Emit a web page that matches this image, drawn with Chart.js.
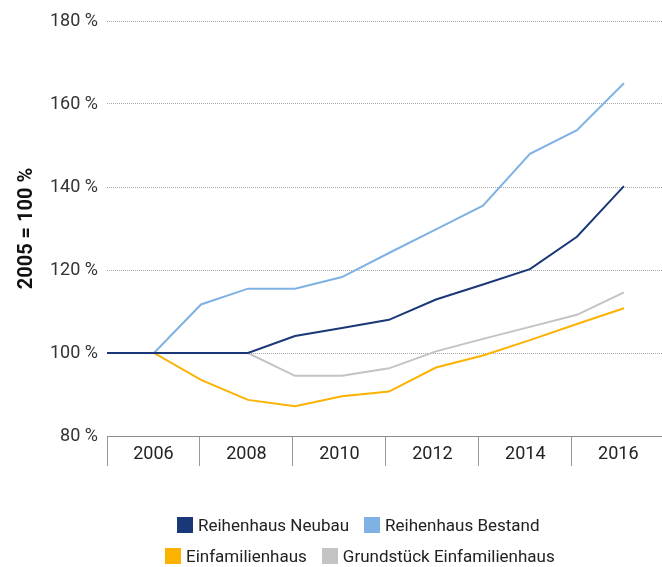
<!DOCTYPE html>
<html>
<head>
<meta charset="utf-8">
<script src="https://cdn.jsdelivr.net/npm/chart.js@4/dist/chart.umd.min.js"></script>
<style>
  html, body { margin: 0; padding: 0; background: #ffffff; }
  #wrap { position: relative; width: 662px; height: 567px; overflow: hidden; }
  #legend { position: absolute; left: 0; top: 0; width: 662px; height: 567px; pointer-events: none;
            font-family: Roboto, "Liberation Sans", sans-serif;
            font-size: 17px; color: #222; }
  .row { position: absolute; display: flex; align-items: center; height: 22px; white-space: nowrap; }
  .item { display: flex; align-items: center; margin-right: 15px; }
  .box { width: 16px; height: 16px; margin-right: 5px; flex: none; }
</style>
</head>
<body>
<div id="wrap">
  <canvas id="c" width="662" height="567"></canvas>
  <div id="legend"></div>
</div>
<script>
const years = [2005, 2006, 2007, 2008, 2009, 2010, 2011, 2012, 2013, 2014, 2015, 2016];
const seriesNames = ["Reihenhaus Neubau", "Reihenhaus Bestand", "Einfamilienhaus", "Grundstück Einfamilienhaus"];
const reihenhausNeubau   = [100, 100, 100, 100, 104.1, 106.0, 108.0, 112.9, 116.5, 120.2, 128.0, 140.2];
const reihenhausBestand  = [100, 100, 111.7, 115.5, 115.5, 118.3, 124.1, 129.8, 135.5, 148.0, 153.7, 165.0];
const einfamilienhaus    = [100, 100, 93.5, 88.7, 87.2, 89.6, 90.7, 96.5, 99.4, 103.1, 107.0, 110.8];
const grundstueckEFH     = [100, 100, 100, 100, 94.5, 94.5, 96.3, 100.4, 103.4, 106.3, 109.2, 114.6];
const yTicks = [80, 100, 120, 140, 160, 180];
const xTickLabels = [2006, 2008, 2010, 2012, 2014, 2016];
const colors = ["#1a3878", "#7fb2e3", "#fbb200", "#c3c3c3"];

const FONT = "Roboto, 'Liberation Sans', sans-serif";
const allSeries = [reihenhausNeubau, reihenhausBestand, einfamilienhaus, grundstueckEFH];

function pts(arr) { return arr.map((v, i) => ({ x: years[i], y: v })); }

const datasets = allSeries.map((arr, i) => ({
  label: seriesNames[i],
  data: pts(arr),
  borderColor: colors[i],
  backgroundColor: colors[i],
  borderWidth: 2,
  pointRadius: 0,
  tension: 0,
  fill: false,
  xAxisID: 'xd',
  yAxisID: 'y'
}));

new Chart(document.getElementById('c'), {
  type: 'line',
  data: { datasets },
  options: {
    responsive: false,
    animation: false,
    layout: { padding: { top: 21, right: 0, bottom: 101, left: 0 } },
    plugins: { legend: { display: false }, tooltip: { enabled: false } },
    scales: {
      xd: {
        type: 'linear', display: false, position: 'bottom',
        min: 2005, max: 2016.81
      },
      x: {
        type: 'linear', position: 'bottom',
        min: 2005, max: 2016.94,
        afterBuildTicks: s => { s.ticks = years.map(v => ({ value: v })); },
        afterFit: s => { s.height = 30; },
        border: { display: true, color: '#8c8c8c', width: 1 },
        grid: {
          drawOnChartArea: false, drawTicks: true, tickLength: 30,
          color: c => (c.tick && c.tick.value % 2 === 1) ? '#9a9a9a' : 'rgba(0,0,0,0)',
          lineWidth: 1
        },
        ticks: {
          autoSkip: false, maxRotation: 0, minRotation: 0,
          padding: -22,
          color: '#222',
          font: { family: FONT, size: 18 },
          callback: v => xTickLabels.includes(v) ? String(v) : ''
        }
      },
      y: {
        type: 'linear', position: 'left',
        min: 80, max: 180,
        afterFit: s => { s.width = 107; },
        afterBuildTicks: s => { s.ticks = yTicks.map(v => ({ value: v })); },
        border: { display: false, dash: [1, 1] },
        grid: {
          drawTicks: false,
          color: c => (c.tick && c.tick.value === 80) ? 'rgba(0,0,0,0)' : '#a8a8a8',
          lineWidth: 1
        },
        ticks: {
          padding: 9,
          color: '#333',
          font: { family: FONT, size: 18 },
          callback: v => v + ' %'
        },
        title: {
          display: true, text: '2005 = 100 %',
          color: '#111',
          font: { family: FONT, size: 20, weight: 'bold' },
          padding: { top: 15, bottom: 0 }
        }
      }
    }
  }
});

// HTML legend (two rows as in the reference)
const legend = document.getElementById('legend');
const rows = [[0, 1], [2, 3]];
const rowPos = [{ left: 177, top: 514 }, { left: 165, top: 545 }];
rows.forEach((r, ri) => {
  const row = document.createElement('div');
  row.className = 'row';
  row.style.left = rowPos[ri].left + 'px';
  row.style.top = rowPos[ri].top + 'px';
  r.forEach(idx => {
    const it = document.createElement('div');
    it.className = 'item';
    const b = document.createElement('span');
    b.className = 'box';
    b.style.background = colors[idx];
    const t = document.createElement('span');
    t.textContent = seriesNames[idx];
    it.appendChild(b); it.appendChild(t);
    row.appendChild(it);
  });
  legend.appendChild(row);
});
</script>
</body>
</html>
